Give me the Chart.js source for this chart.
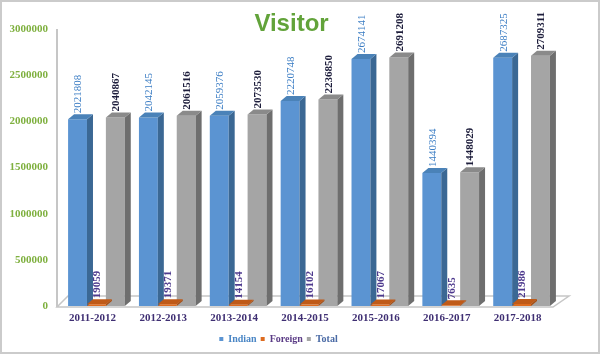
<!DOCTYPE html>
<html>
<head>
<meta charset="utf-8">
<script src="https://cdn.jsdelivr.net/npm/chart.js@4.4.0/dist/chart.umd.min.js"></script>
<style>
  html, body { margin: 0; padding: 0; background: #fff; }
  #wrap { position: relative; width: 600px; height: 354px; }
  #frame { position: absolute; left: 0; top: 0; width: 600px; height: 354px; box-sizing: border-box; border: 2px solid #cbcbcb; pointer-events: none; }
  #title { position: absolute; left: 0; top: 9px; width: 583px; text-align: center; font: bold 24px "Liberation Sans", Arial, sans-serif; line-height: 28px; color: #62a33a; }
</style>
</head>
<body>
<div id="wrap">
  <canvas id="visitorChart" width="600" height="354"></canvas>
  <div id="title">Visitor</div>
  <div id="frame"></div>
</div>
<script>
// ======================================
// Data
// ======================================

const years = ["2011-2012", "2012-2013", "2013-2014", "2014-2015", "2015-2016", "2016-2017", "2017-2018"];
const indianVisitors = [2021808, 2042145, 2059376, 2220748, 2674141, 1440394, 2687325];
const foreignVisitors = [19059, 19371, 14154, 16102, 17067, 7635, 21986];
const totalVisitors = [2040867, 2061516, 2073530, 2236850, 2691208, 1448029, 2709311];
const yTicks = [0, 500000, 1000000, 1500000, 2000000, 2500000, 3000000];

const DEPTH_X = 6;
const DEPTH_Y = 5;

// front, side, top colours plus label colour per series
const seriesStyle = [
  { front: "#5b94d2", side: "#3b6894", top: "#4a82b8", label: "#3b7dc4", legendText: "#4a86c5", weight: "normal" },
  { front: "#dd6b1f", side: "#a84f14", top: "#bf5a18", label: "#4e3a8e", legendText: "#5b3c86", weight: "bold" },
  { front: "#a5a5a5", side: "#6e6e6e", top: "#8a8a8a", label: "#1e1e3c", legendText: "#4a6aa5", weight: "bold" },
];

// ======================================
// 3D floor, axis line and bar faces
// ======================================

const depthPlugin = {
  id: "depth",
  beforeDatasetsDraw(chart) {
    const { ctx, chartArea } = chart;
    const L = chartArea.left, R = chartArea.right, B = chartArea.bottom;
    ctx.save();
    ctx.strokeStyle = "#c6c6c6";
    ctx.lineWidth = 1.5;
    ctx.beginPath();
    ctx.moveTo(L - 4, B + 1);
    ctx.lineTo(R - 4, B + 1);
    ctx.lineTo(R + 12, B - 10);
    ctx.lineTo(L + 7, B - 10);
    ctx.closePath();
    ctx.stroke();

    ctx.lineWidth = 2;
    ctx.beginPath();
    ctx.moveTo(L - 4, chartArea.top);
    ctx.lineTo(L - 4, B + 1);
    ctx.stroke();
    ctx.restore();
  },
  afterDatasetsDraw(chart) {
    const { ctx } = chart;
    ctx.save();
    chart.data.datasets.forEach((ds, di) => {
      const style = seriesStyle[di];
      chart.getDatasetMeta(di).data.forEach((bar) => {
        const right = bar.x + bar.width / 2;
        const left = bar.x - bar.width / 2;
        const top = bar.y;
        const base = bar.base;

        ctx.fillStyle = style.side;
        ctx.beginPath();
        ctx.moveTo(right, base);
        ctx.lineTo(right, top);
        ctx.lineTo(right + DEPTH_X, top - DEPTH_Y);
        ctx.lineTo(right + DEPTH_X, base - DEPTH_Y);
        ctx.closePath();
        ctx.fill();

        ctx.fillStyle = style.top;
        ctx.beginPath();
        ctx.moveTo(left, top);
        ctx.lineTo(right, top);
        ctx.lineTo(right + DEPTH_X, top - DEPTH_Y);
        ctx.lineTo(left + DEPTH_X, top - DEPTH_Y);
        ctx.closePath();
        ctx.fill();
      });
    });
    ctx.restore();
  },
};

// ======================================
// Rotated value labels
// ======================================

const valueLabelPlugin = {
  id: "valueLabels",
  afterDatasetsDraw(chart) {
    const { ctx } = chart;
    ctx.save();
    chart.data.datasets.forEach((ds, di) => {
      const style = seriesStyle[di];
      ctx.fillStyle = style.label;
      ctx.font = style.weight + " 11px 'Liberation Serif', 'Times New Roman', serif";
      chart.getDatasetMeta(di).data.forEach((bar, i) => {
        ctx.save();
        ctx.translate(bar.x + 1, bar.y - DEPTH_Y - 1);
        ctx.rotate(-Math.PI / 2);
        ctx.textAlign = "left";
        ctx.textBaseline = "middle";
        ctx.fillText(String(ds.data[i]), 0, 0);
        ctx.restore();
      });
    });
    ctx.restore();
  },
};

// ======================================
// Chart
// ======================================

const ctx = document.getElementById("visitorChart");

new Chart(ctx, {
  type: "bar",
  data: {
    labels: years,
    datasets: [
      { label: "Indian", data: indianVisitors, backgroundColor: seriesStyle[0].front },
      { label: "Foreign", data: foreignVisitors, backgroundColor: seriesStyle[1].front },
      { label: "Total", data: totalVisitors, backgroundColor: seriesStyle[2].front },
    ],
  },
  options: {
    responsive: false,
    animation: false,
    layout: { padding: { top: 29, right: 43, left: 0, bottom: 0 } },
    datasets: {
      bar: { categoryPercentage: 0.8, barPercentage: 1.0 },
    },
    plugins: {
      title: { display: false },
      tooltip: { enabled: false },
      legend: {
        position: "bottom",
        labels: {
          boxWidth: 4,
          boxHeight: 4,
          padding: 4,
          font: { family: "'Liberation Serif', 'Times New Roman', serif", size: 10, weight: "bold" },
          generateLabels(chart) {
            return chart.data.datasets.map((ds, i) => ({
              text: ds.label,
              fillStyle: seriesStyle[i].front,
              strokeStyle: seriesStyle[i].front,
              lineWidth: 0,
              fontColor: seriesStyle[i].legendText,
              datasetIndex: i,
              hidden: false,
            }));
          },
        },
      },
    },
    scales: {
      x: {
        grid: { display: false, drawTicks: false },
        border: { display: false },
        ticks: {
          color: "#3f2f73",
          padding: 6,
          labelOffset: -4,
          font: { family: "'Liberation Serif', 'Times New Roman', serif", size: 11, weight: "bold" },
        },
        afterFit(scale) { scale.height = 24; },
      },
      y: {
        min: 0,
        max: 3000000,
        afterBuildTicks(scale) { scale.ticks = yTicks.map((v) => ({ value: v })); },
        grid: { display: false, drawTicks: false },
        border: { display: false },
        ticks: {
          color: "#7fb03f",
          padding: 13,
          font: { family: "'Liberation Serif', 'Times New Roman', serif", size: 11, weight: "bold" },
          callback: (v) => String(v),
        },
        afterFit(scale) { scale.width = 61; },
      },
    },
  },
  plugins: [depthPlugin, valueLabelPlugin],
});
</script>
</body>
</html>
